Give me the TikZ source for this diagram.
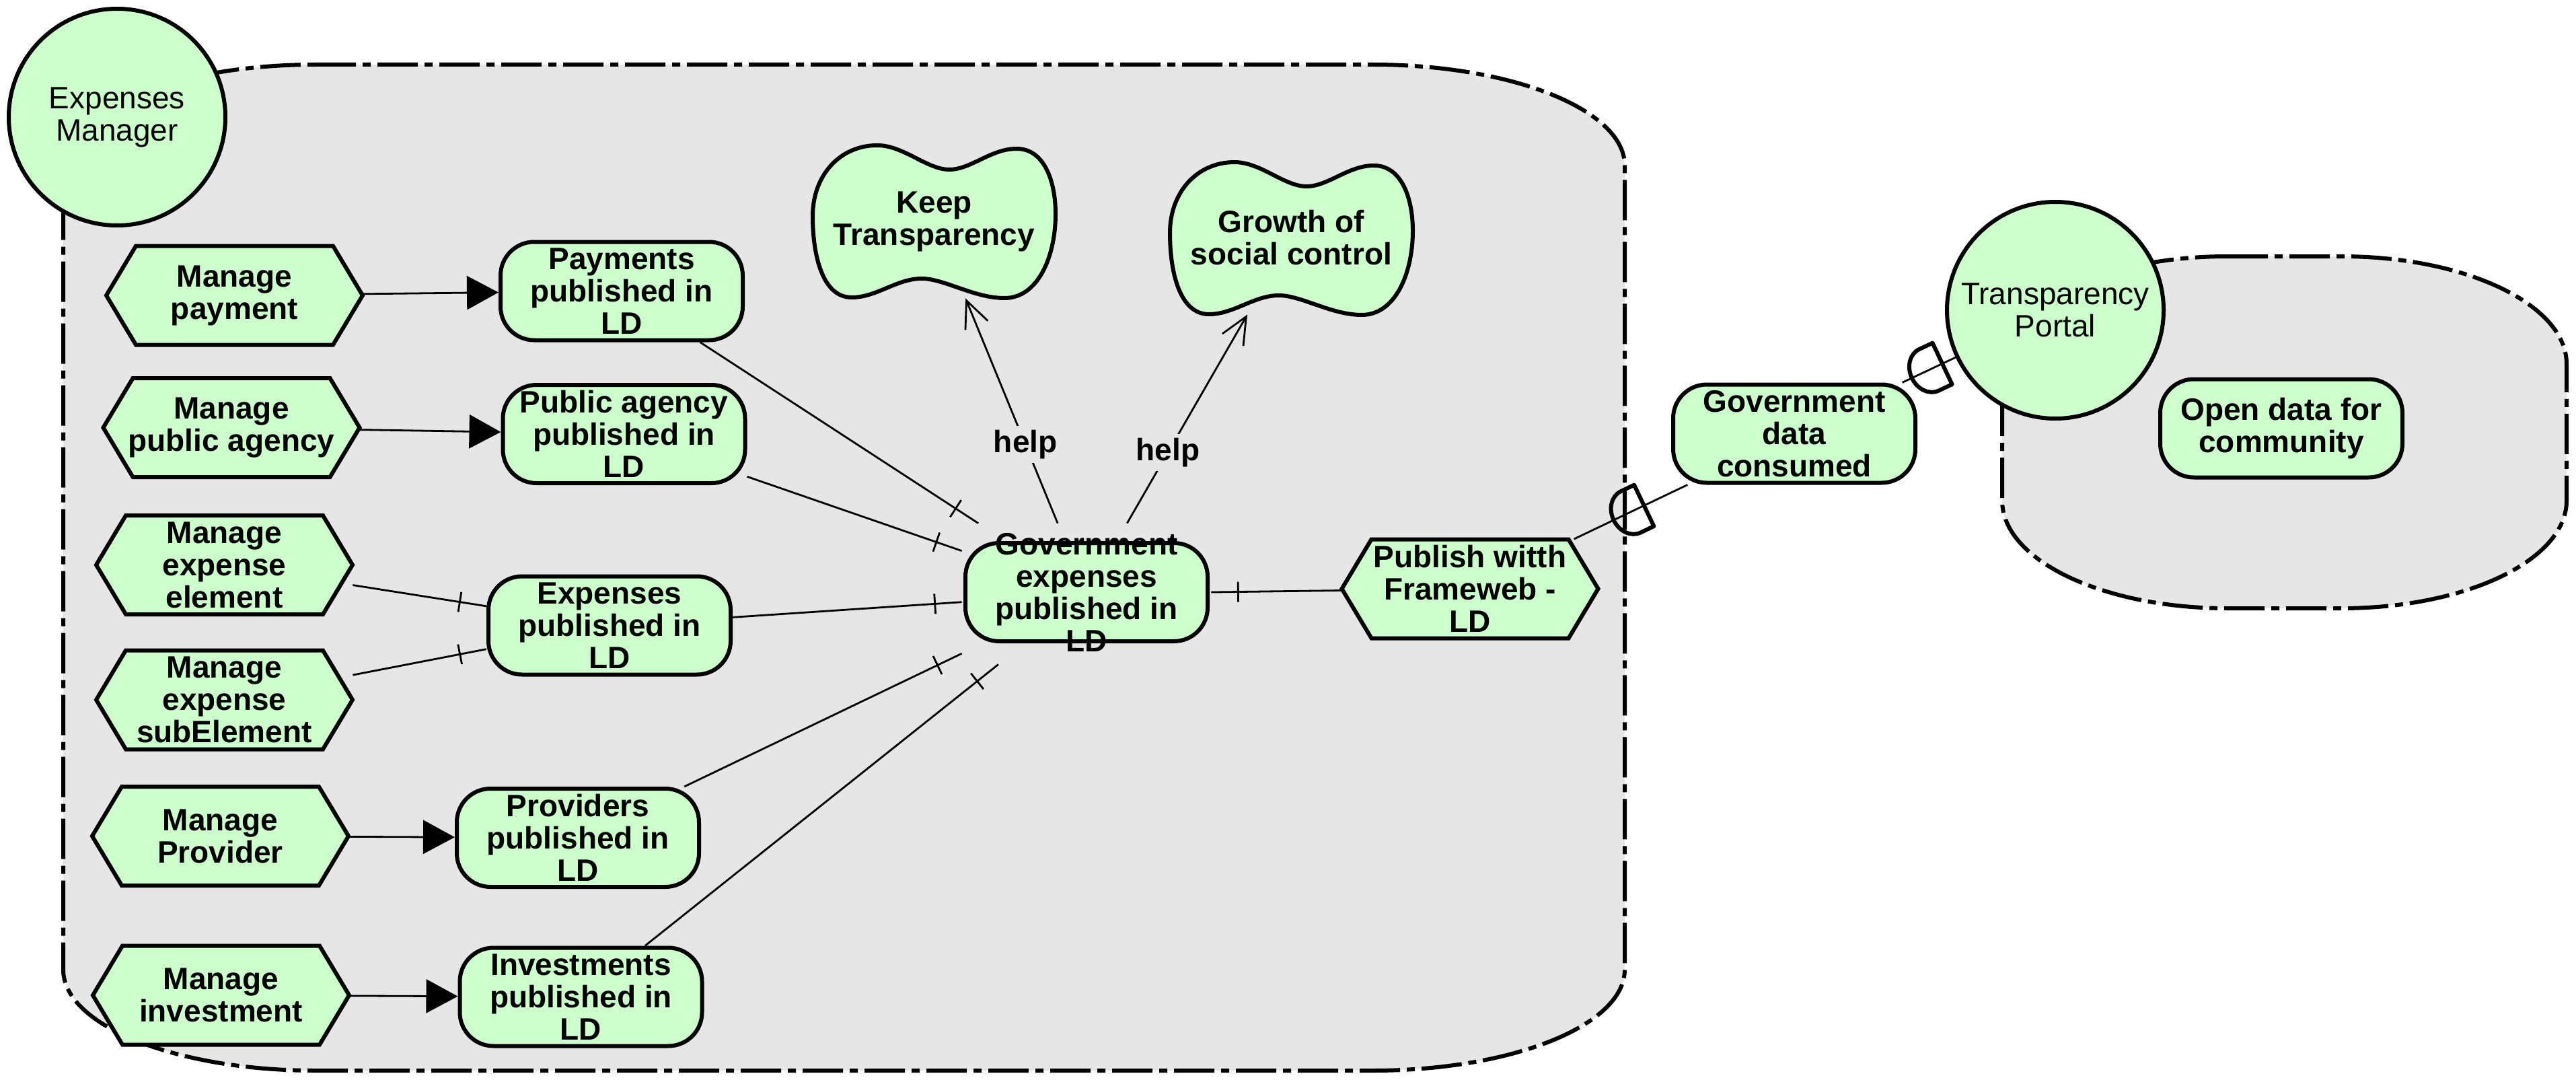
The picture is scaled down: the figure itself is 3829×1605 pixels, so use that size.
\documentclass[tikz,border=0pt]{standalone}
\usepackage{fontspec}
\setmainfont{Liberation Sans}
\usetikzlibrary{arrows.meta,decorations.markings}
\definecolor{bggray}{HTML}{E6E6E6}
\definecolor{lgreen}{HTML}{CCFFCC}
\newcommand\myhex[4]{%
  \filldraw[hexline] ({#2-190.5},#3) -- ({#2-146.5},{#3-73.5}) -- ({#2+146.5},{#3-73.5}) -- ({#2+190.5},#3) -- ({#2+146.5},{#3+73.5}) -- ({#2-146.5},{#3+73.5}) -- cycle;
  \node[hexbox] (#1) at (#2,#3) {#4};}
\begin{document}
\begin{tikzpicture}[x=0.5pt,y=-0.5pt,
 txt/.style={font=\fontsize{23}{24}\selectfont\bfseries, align=center, inner sep=0pt},
 task/.style={txt, draw, fill=lgreen, line width=3pt, rounded corners=25pt, minimum width=180pt, minimum height=73pt},
 hexbox/.style={txt, minimum width=190.5pt, minimum height=73.5pt},
 hexline/.style={draw, fill=lgreen, line width=3pt, line join=miter},
 goalline/.style={draw, fill=lgreen, line width=3pt},
 actor/.style={circle, draw, fill=lgreen, line width=3pt, minimum size=161pt, inner sep=0pt, align=center, font=\fontsize{23}{24}\selectfont},
 boundary/.style={fill=bggray, draw, line width=3pt, dash pattern=on 30pt off 5pt on 6pt off 5pt},
 conn/.style={line width=1.4pt},
 arr/.style={conn, -{Triangle[length=23.5pt,width=25pt]}},
 helpline/.style={conn, -{Straight Barb[length=20pt,width=18pt,line width=1.4pt]}},
 helplabel/.style={txt, fill=bggray, inner sep=3pt},
 tickend/.style={postaction={decorate, decoration={markings, mark=at position -20pt with {\draw[line width=1.4pt] (0,-15) -- (0,15);}}}},
 tickstart/.style={postaction={decorate, decoration={markings, mark=at position 20pt with {\draw[line width=1.4pt] (0,-15) -- (0,15);}}}},
 dmark/.style={postaction={decorate, decoration={markings, mark=at position 0.5 with {\draw[line width=3pt, line join=round] (22,-34) -- (22,34) -- (0,34) arc[start angle=90, end angle=270, x radius=28, y radius=34] -- cycle;}}}},
 goalbox/.style={txt, minimum width=180.5pt, minimum height=113.5pt},
 goalpic/.pic={\filldraw[goalline] (96,0) .. controls (135,0) and (170,36) .. (203,36) .. controls (235,36) and (265,5) .. (303,5) .. controls (345,5) and (361,55) .. (361,102) .. controls (361,165) and (335,227) .. (285,227) .. controls (240,227) and (195,198) .. (162,198) .. controls (125,198) and (95,226) .. (58,226) .. controls (15,226) and (0,165) .. (0,105) .. controls (0,45) and (40,0) .. (96,0) -- cycle;}
]
\useasboundingbox (0,0) rectangle (3829,1605);
% boundaries
\path[boundary] (469,96) -- (2040,96) arc[start angle=-90,end angle=0,x radius=375,y radius=150] -- (2415,1441) arc[start angle=0,end angle=90,x radius=375,y radius=150] -- (469,1591) arc[start angle=90,end angle=180,x radius=375,y radius=150] -- (94,246) arc[start angle=180,end angle=270,x radius=375,y radius=150] -- cycle;
\path[boundary] (3311,381) -- (3480,381) arc[start angle=-90,end angle=0,x radius=335,y radius=160] -- (3815,744) arc[start angle=0,end angle=90,x radius=335,y radius=160] -- (3311,904) arc[start angle=90,end angle=180,x radius=335,y radius=160] -- (2976,541) arc[start angle=180,end angle=270,x radius=335,y radius=160] -- cycle;
% actors
\node[actor] (em) at (174,174) {Expenses\\Manager};
\node[actor] (tp) at (3055,461) {Transparency\\Portal};
% goals
\pic at (1208,216) {goalpic};
\node[goalbox] (keep) at (1388.5,329.5) {Keep\\Transparency};
\pic at (1739,241) {goalpic};
\node[goalbox] (growth) at (1919.5,353.5) {Growth of\\social control};
% hexagon tasks
\myhex{mpay}{348.5}{439}{Manage\\payment}
\myhex{mpub}{344}{635.5}{Manage\\public agency}
\myhex{mel}{333.5}{839.5}{Manage\\expense\\element}
\myhex{msub}{333.5}{1040}{Manage\\expense\\subElement}
\myhex{mprov}{327.5}{1242.5}{Manage\\Provider}
\myhex{minv}{328.5}{1479}{Manage\\investment}
\myhex{publish}{2185}{875}{Publish witth\\Frameweb -\\LD}
% resources
\node[task] (pay) at (924,432.5) {Payments\\published in\\LD};
\node[task] (pubag) at (927.5,645) {Public agency\\published in\\LD};
\node[task] (exp) at (906,929.5) {Expenses\\published in\\LD};
\node[task] (prov) at (859,1245) {Providers\\published in\\LD};
\node[task] (inv) at (863.5,1481.5) {Investments\\published in\\LD};
\node[task] (govshape) at (1615,880) {};
\node[txt] (govtext) at (1615,880) {Government\\expenses\\published in\\LD};
\node[minimum width=185pt, minimum height=104.5pt, inner sep=0pt] (gov) at (1615,882.5) {};
\node[task] (govdata) at (2667,644.5) {Government\\data\\consumed};
\node[task] (opendata) at (3391,636.5) {Open data for\\community};
% connectors
\draw[arr] (mpay) -- (pay);
\draw[arr] (mpub) -- (pubag);
\draw[arr] (mprov) -- (prov);
\draw[arr] (minv) -- (inv);
\draw[conn,tickend] (mel) -- (exp);
\draw[conn,tickend] (msub) -- (exp);
\draw[conn,tickend] (pay) -- (gov);
\draw[conn,tickend] (pubag) -- (gov);
\draw[conn,tickend] (exp) -- (gov);
\draw[conn,tickend] (prov) -- (gov);
\draw[conn,tickend] (inv) -- (gov);
\draw[conn,tickstart] (gov) -- (publish);
\draw[helpline] (gov) -- node[helplabel,pos=0.35] (help1) {help} (keep);
\draw[helpline] (gov) -- node[helplabel,pos=0.34] (help2) {help} (growth);
\draw[conn,dmark] (publish) -- (govdata);
\draw[conn,dmark] (govdata) -- (tp);
\end{tikzpicture}
\end{document}
